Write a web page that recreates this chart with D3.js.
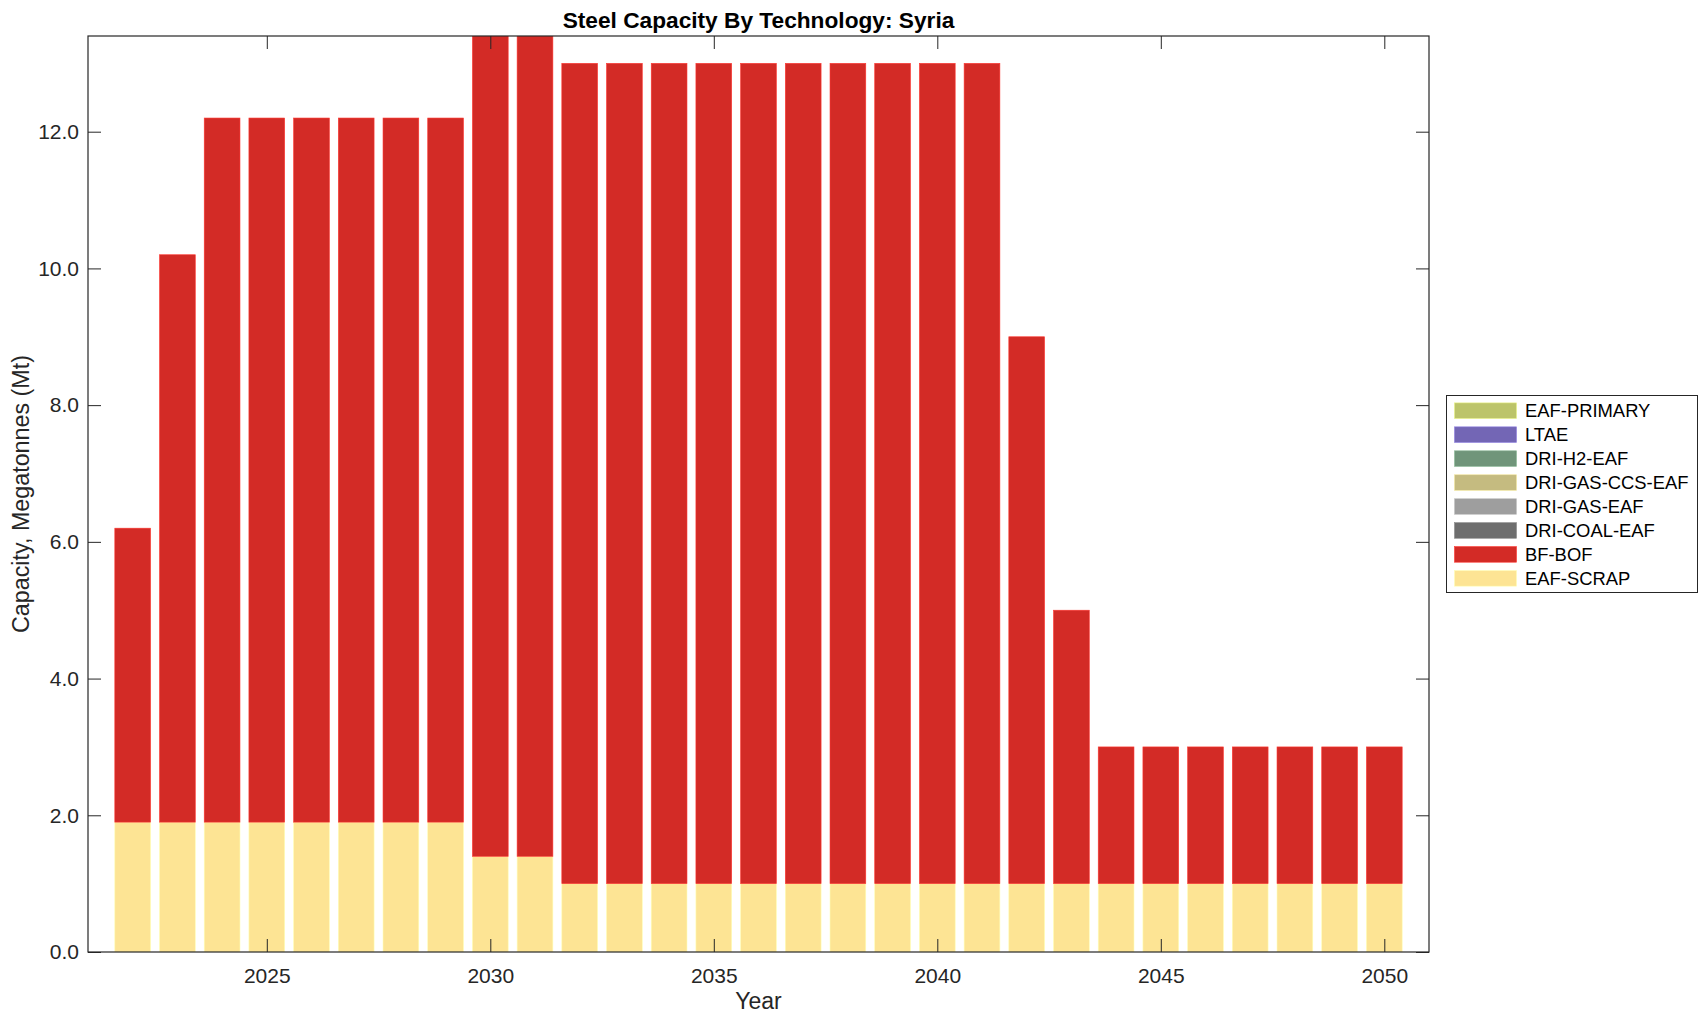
<!DOCTYPE html>
<html>
<head>
<meta charset="utf-8">
<script src="https://cdn.jsdelivr.net/npm/d3@7"></script>
<style>
  html, body { margin: 0; padding: 0; background: #fff; }
  svg { display: block; font-family: "Liberation Sans", Arial, Helvetica, sans-serif; }
</style>
</head>
<body>
<svg id="chart" width="1708" height="1021"></svg>
<script>
const years = [2022,2023,2024,2025,2026,2027,2028,2029,2030,2031,2032,2033,2034,2035,2036,2037,2038,2039,2040,2041,2042,2043,2044,2045,2046,2047,2048,2049,2050];
const eafScrap = [1.9,1.9,1.9,1.9,1.9,1.9,1.9,1.9,1.4,1.4,1,1,1,1,1,1,1,1,1,1,1,1,1,1,1,1,1,1,1];
const bfBof    = [4.3,8.3,10.3,10.3,10.3,10.3,10.3,10.3,12,12,12,12,12,12,12,12,12,12,12,12,8,4,2,2,2,2,2,2,2];
const zeros = years.map(() => 0);
const driCoalEaf = zeros, driGasEaf = zeros, driGasCcsEaf = zeros, driH2Eaf = zeros, ltae = zeros, eafPrimary = zeros;

const seriesNames  = ["EAF-SCRAP","BF-BOF","DRI-COAL-EAF","DRI-GAS-EAF","DRI-GAS-CCS-EAF","DRI-H2-EAF","LTAE","EAF-PRIMARY"];
const seriesValues = [eafScrap, bfBof, driCoalEaf, driGasEaf, driGasCcsEaf, driH2Eaf, ltae, eafPrimary];
const seriesColors = ["#FDE494","#D32B26","#6E6E6E","#9E9E9E","#C5BB80","#70957A","#7366B5","#BCC46A"];

const xTicks = [2025,2030,2035,2040,2045,2050];
const yTicks = [0,2,4,6,8,10,12];
const titleText = "Steel Capacity By Technology: Syria";
const xLabel = "Year";
const yLabel = "Capacity, Megatonnes (Mt)";

const svg = d3.select("#chart");
const m = {left: 88, top: 36, right: 1429, bottom: 952};
const axisColor = "#262626";

const table = years.map((y, i) => {
  const row = {year: y};
  seriesNames.forEach((n, k) => row[n] = seriesValues[k][i]);
  return row;
});
const stacked = d3.stack().keys(seriesNames)(table);
const yMax = d3.max(table, r => d3.sum(seriesNames, n => r[n]));

const x = d3.scaleLinear().domain([2021, 2051]).range([m.left, m.right]);
const y = d3.scaleLinear().domain([0, yMax]).range([m.bottom, m.top]);
const bw = 0.8;

svg.append("defs").append("clipPath").attr("id","clip")
  .append("rect").attr("x", m.left).attr("y", m.top).attr("width", m.right-m.left).attr("height", m.bottom-m.top);

const g = svg.append("g").attr("clip-path","url(#clip)");
stacked.forEach((s, k) => {
  g.append("g").selectAll("rect").data(s.filter(d => d[1] - d[0] > 0)).join("rect")
    .attr("x", d => x(d.data.year - bw/2))
    .attr("width", d => x(d.data.year + bw/2) - x(d.data.year - bw/2))
    .attr("y", d => y(d[1]))
    .attr("height", d => y(d[0]) - y(d[1]))
    .attr("fill", seriesColors[k])
    .attr("stroke", d3.color(seriesColors[k]).brighter(0.6))
    .attr("stroke-width", 0.6);
});

const tickLen = 13;
const xAxisB = d3.axisBottom(x).tickValues(xTicks).tickSize(-tickLen).tickPadding(16).tickFormat(d3.format("d"));
const xAxisT = d3.axisTop(x).tickValues(xTicks).tickSize(-tickLen).tickFormat("");
const yAxisL = d3.axisLeft(y).tickValues(yTicks).tickSize(-tickLen).tickPadding(9).tickFormat(d3.format(".1f"));
const yAxisR = d3.axisRight(y).tickValues(yTicks).tickSize(-tickLen).tickFormat("");

function styleAxis(sel) {
  sel.select(".domain").remove();
  sel.selectAll(".tick line").attr("stroke", axisColor).attr("stroke-width", 1);
  sel.selectAll(".tick text").attr("fill", axisColor).attr("font-size", 21);
}
svg.append("g").attr("transform", `translate(0,${m.bottom})`).call(xAxisB).call(styleAxis);
svg.append("g").attr("transform", `translate(0,${m.top})`).call(xAxisT).call(styleAxis);
svg.append("g").attr("transform", `translate(${m.left},0)`).call(yAxisL).call(styleAxis);
svg.append("g").attr("transform", `translate(${m.right},0)`).call(yAxisR).call(styleAxis);

svg.append("rect").attr("x", m.left).attr("y", m.top).attr("width", m.right-m.left).attr("height", m.bottom-m.top)
  .attr("fill","none").attr("stroke", axisColor).attr("stroke-width", 1.2);

svg.append("text").attr("x", (m.left+m.right)/2).attr("y", 28).attr("text-anchor","middle")
  .attr("font-size", 22.7).attr("font-weight","bold").attr("fill","#000").text(titleText);
svg.append("text").attr("x", (m.left+m.right)/2).attr("y", 1009).attr("text-anchor","middle")
  .attr("font-size", 23).attr("fill", axisColor).text(xLabel);
svg.append("text").attr("transform", `translate(29,${(m.top+m.bottom)/2}) rotate(-90)`).attr("text-anchor","middle")
  .attr("font-size", 23.3).attr("fill", axisColor).text(yLabel);

const lg = svg.append("g");
lg.append("rect").attr("x", 1446.5).attr("y", 395.5).attr("width", 251).attr("height", 197)
  .attr("fill","#fff").attr("stroke", axisColor).attr("stroke-width", 1);
const legendOrder = seriesNames.map((n, k) => k).reverse();
legendOrder.forEach((k, i) => {
  const cy = 410.7 + i * 23.95;
  lg.append("rect").attr("x", 1454.5).attr("y", cy - 7.8).attr("width", 62).attr("height", 15.6)
    .attr("fill", seriesColors[k]).attr("stroke", d3.color(seriesColors[k]).brighter(0.6)).attr("stroke-width", 0.6);
  lg.append("text").attr("x", 1525).attr("y", cy).attr("dy", "0.35em")
    .attr("font-size", 18.4).attr("fill", "#000").text(seriesNames[k]);
});
</script>
</body>
</html>
